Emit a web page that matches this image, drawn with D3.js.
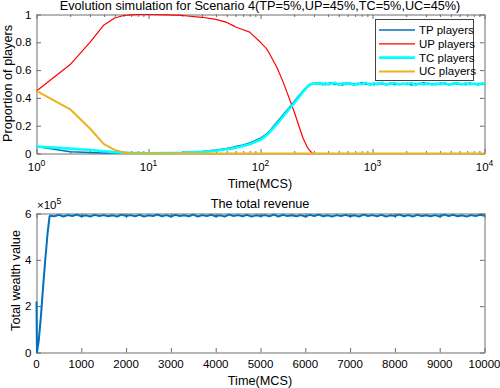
<!DOCTYPE html>
<html><head><meta charset="utf-8">
<script src="https://cdn.jsdelivr.net/npm/d3@7"></script>
<style>body{margin:0;background:#fff}svg{display:block}text{font-family:"Liberation Sans",Arial,sans-serif;fill:#000}</style>
</head><body><svg id="c" width="500" height="388"></svg>
<script>
// ---------- data ----------
const seriesNames = ["TP players","UP players","TC players","UC players"];
const seriesColors = ["#0072BD","#FF0000","#00FFFF","#EDB120"];
const seriesWidths = [1.5,1.2,2.6,2];
// time points (MCS) for the evolution panel (log axis)
const tEarly = [1,2,3,4,5,6,7,8,10,15,20,30,40,50,57,60,70,80,100,113,120,140,160,180,200,220,240,260,276,290,300];
const tpEarly = [0.05,0.013,0.007,0.004,0.003,0.002,0.002,0.002,0.002,0.004,0.007,0.015,0.025,0.036,0.045,0.05,0.062,0.075,0.11,0.14,0.16,0.225,0.28,0.33,0.375,0.415,0.452,0.482,0.499,0.503,0.505];
const upEarly = [0.45,0.64,0.80,0.925,0.975,0.993,0.998,1.0,1.0,0.998,0.993,0.98,0.965,0.943,0.92,0.91,0.89,0.873,0.80,0.754,0.72,0.62,0.51,0.40,0.30,0.20,0.11,0.05,0.02,0.003,0];
const tcEarly = [0.05,0.035,0.025,0.016,0.01,0.006,0.004,0.003,0.002,0.003,0.005,0.012,0.02,0.03,0.037,0.042,0.054,0.066,0.10,0.13,0.15,0.212,0.268,0.318,0.362,0.405,0.445,0.476,0.494,0.5,0.503];
const ucEarly = [0.45,0.318,0.18,0.067,0.026,0.007,0.002,0,0,0,0,0,0,0,0,0,0,0,0,0,0,0,0,0,0,0,0,0,0,0,0];
// plateau (t > 300)
const tLate = [320,340,360,380,400,430,460,500,540,580,630,680,740,800,870,950,1030,1120,1220,1330,1450,1580,1720,1870,2040,2220,2420,2640,2870,3130,3410,3720,4050,4410,4810,5240,5710,6220,6780,7390,8050,8770,9560,10000];
const tpLate = [0.508,0.497,0.505,0.494,0.503,0.509,0.496,0.502,0.493,0.507,0.499,0.504,0.495,0.51,0.498,0.503,0.494,0.506,0.5,0.497,0.508,0.495,0.503,0.499,0.506,0.493,0.504,0.498,0.509,0.496,0.502,0.494,0.507,0.5,0.496,0.505,0.498,0.503,0.494,0.507,0.499,0.504,0.497,0.502];
const upLate = tLate.map(() => 0);
const tcLate = [0.502,0.508,0.495,0.506,0.497,0.504,0.509,0.494,0.505,0.499,0.507,0.493,0.503,0.498,0.508,0.495,0.505,0.497,0.509,0.494,0.502,0.507,0.496,0.504,0.498,0.508,0.493,0.505,0.497,0.506,0.495,0.503,0.499,0.508,0.494,0.501,0.507,0.496,0.505,0.498,0.503,0.495,0.506,0.5];
const ucLate = tLate.map(() => 0);
const yTicksTop = [0,0.2,0.4,0.6,0.8,1];
const xTicksTop = [1,10,100,1000,10000];
// total revenue panel (values in units of 1e5)
const tRev = [0,10,50,100,150,200,250,290,300];
const revEarly = [2.2,0,0.5,1.6,2.9,4.1,5.2,5.85,5.9];
const tRevLate = [400,500,600,700,800,900,1000,1100,1200,1300,1400,1500,1600,1700,1800,1900,2000,2100,2200,2300,2400,2500,2600,2700,2800,2900,3000,3100,3200,3300,3400,3500,3600,3700,3800,3900,4000,4100,4200,4300,4400,4500,4600,4700,4800,4900,5000,5100,5200,5300,5400,5500,5600,5700,5800,5900,6000,6100,6200,6300,6400,6500,6600,6700,6800,6900,7000,7100,7200,7300,7400,7500,7600,7700,7800,7900,8000,8100,8200,8300,8400,8500,8600,8700,8800,8900,9000,9100,9200,9300,9400,9500,9600,9700,9800,9900,10000];
const revLate = [5.88,5.94,5.87,5.93,5.89,5.95,5.88,5.92,5.87,5.94,5.89,5.93,5.88,5.92,5.87,5.95,5.89,5.93,5.88,5.94,5.87,5.92,5.89,5.95,5.88,5.93,5.87,5.94,5.89,5.92,5.88,5.95,5.87,5.93,5.89,5.94,5.88,5.92,5.87,5.95,5.89,5.93,5.88,5.94,5.87,5.92,5.89,5.93,5.88,5.95,5.87,5.94,5.89,5.92,5.88,5.93,5.87,5.94,5.89,5.95,5.88,5.92,5.87,5.93,5.89,5.94,5.88,5.92,5.87,5.95,5.89,5.93,5.88,5.94,5.87,5.92,5.89,5.95,5.88,5.93,5.87,5.94,5.89,5.92,5.88,5.93,5.87,5.95,5.89,5.94,5.88,5.92,5.87,5.93,5.89,5.94,5.9];
const xTicksBot = [0,1000,2000,3000,4000,5000,6000,7000,8000,9000,10000];
const yTicksBot = [0,2,4,6];

// ---------- drawing ----------
const svg = d3.select("#c");
const axisColor = "#6e6e6e";
const P1 = {l:36.5, r:484.5, t:14.5, b:153.5};
const P2 = {l:36.5, r:484.5, t:213.5, b:352.5};

const x1 = d3.scaleLog().domain([1,10000]).range([P1.l,P1.r]);
const y1 = d3.scaleLinear().domain([0,1]).range([P1.b,P1.t]);
const x2 = d3.scaleLinear().domain([0,10000]).range([P2.l,P2.r]);
const y2 = d3.scaleLinear().domain([0,6]).range([P2.b,P2.t]);

function boxAxes(P, xs, ys, xMajor, xMinor, yMajor){
  const g = svg.append("g");
  const mk = (ax, tr) => {
    const a = g.append("g").attr("transform", tr).call(ax);
    a.selectAll("text").remove();
    a.select(".domain").attr("stroke", axisColor);
    a.selectAll("line").attr("stroke", axisColor);
    return a;
  };
  const allX = xMajor.concat(xMinor);
  const xa = [mk(d3.axisBottom(xs).tickValues(allX).tickSizeOuter(0).tickSizeInner(-4.5), `translate(0,${P.b})`),
              mk(d3.axisTop(xs).tickValues(allX).tickSizeOuter(0).tickSizeInner(-4.5), `translate(0,${P.t})`)];
  xa.forEach(a => a.selectAll(".tick").filter(d => !xMajor.includes(d)).select("line")
     .each(function(){ const l=d3.select(this); const v=+l.attr("y2"); l.attr("y2", v>0?2.5:-2.5); }));
  mk(d3.axisLeft(ys).tickValues(yMajor).tickSizeOuter(0).tickSizeInner(-4.5), `translate(${P.l},0)`);
  mk(d3.axisRight(ys).tickValues(yMajor).tickSizeOuter(0).tickSizeInner(-4.5), `translate(${P.r},0)`);
}

// top panel axes
const minorLog = [];
[1,10,100,1000].forEach(d => { for(let k=2;k<=9;k++) minorLog.push(d*k); });
boxAxes(P1, x1, y1, xTicksTop, minorLog, yTicksTop);
// bottom panel axes
boxAxes(P2, x2, y2, xTicksBot, [], yTicksBot);

// lines top
const tAll = tEarly.concat(tLate);
const seriesVals = [tpEarly.concat(tpLate), upEarly.concat(upLate), tcEarly.concat(tcLate), ucEarly.concat(ucLate)];
const line1 = d3.line().x(d => x1(d[0])).y(d => y1(d[1]));
seriesVals.forEach((vals,i) => {
  svg.append("path").datum(tAll.map((t,j)=>[t,vals[j]]))
    .attr("d", line1).attr("fill","none").attr("stroke",seriesColors[i])
    .attr("stroke-width",seriesWidths[i]).attr("stroke-linejoin","round");
});

// bottom line
const line2 = d3.line().x(d => x2(d[0])).y(d => y2(d[1]));
const revAll = revEarly.concat(revLate);
svg.append("path").datum(tRev.concat(tRevLate).map((t,j)=>[t, revAll[j]]))
  .attr("d", line2).attr("fill","none").attr("stroke","#0072BD").attr("stroke-width",2).attr("stroke-linejoin","round");

// tick labels
const fs = 11.5;
yTicksTop.forEach(v => svg.append("text").attr("x",P1.l-5).attr("y",y1(v)+4).attr("text-anchor","end").attr("font-size",fs).text(v));
xTicksTop.forEach(v => {
  const e = Math.round(Math.log10(v));
  const t = svg.append("text").attr("x",x1(v)).attr("y",171).attr("text-anchor","middle").attr("font-size",fs);
  t.append("tspan").text("10");
  t.append("tspan").attr("dy",-5).attr("font-size",8.5).text(e);
});
yTicksBot.forEach(v => svg.append("text").attr("x",P2.l-5).attr("y",y2(v)+4).attr("text-anchor","end").attr("font-size",fs).text(v));
xTicksBot.forEach(v => svg.append("text").attr("x",x2(v)).attr("y",368).attr("text-anchor","middle").attr("font-size",fs).text(v));

// exponent label
const ex = svg.append("text").attr("x",37).attr("y",209).attr("font-size",fs);
ex.append("tspan").text("\u00d710");
ex.append("tspan").attr("dy",-5).attr("font-size",8.5).text("5");

// titles and axis labels
const lf = 12.7;
svg.append("text").attr("x",260).attr("y",10).attr("text-anchor","middle").attr("font-size",lf)
  .text("Evolution simulation for Scenario 4(TP=5%,UP=45%,TC=5%,UC=45%)");
svg.append("text").attr("x",260).attr("y",188).attr("text-anchor","middle").attr("font-size",lf).text("Time(MCS)");
svg.append("text").attr("x",260).attr("y",208).attr("text-anchor","middle").attr("font-size",lf).text("The total revenue");
svg.append("text").attr("x",260).attr("y",385).attr("text-anchor","middle").attr("font-size",lf).text("Time(MCS)");
svg.append("text").attr("transform","translate(11.5,83.5) rotate(-90)").attr("text-anchor","middle").attr("font-size",lf).text("Proportion of players");
svg.append("text").attr("transform","translate(19.5,280.5) rotate(-90)").attr("text-anchor","middle").attr("font-size",lf).text("Total wealth value");

// legend
const lg = svg.append("g");
lg.append("rect").attr("x",375.5).attr("y",19.5).attr("width",98).attr("height",61)
  .attr("fill","#fff").attr("stroke","#444").attr("stroke-width",1);
seriesNames.forEach((n,i) => {
  const yy = 30 + i*13.8;
  lg.append("line").attr("x1",379).attr("x2",415).attr("y1",yy).attr("y2",yy)
    .attr("stroke",seriesColors[i]).attr("stroke-width",seriesWidths[i]);
  lg.append("text").attr("x",419).attr("y",yy+4).attr("font-size",11.5).text(n);
});
</script></body></html>
